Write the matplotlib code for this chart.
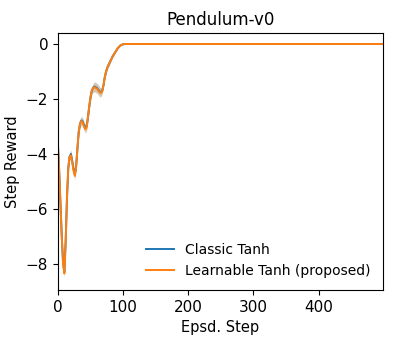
import numpy as np
import matplotlib
matplotlib.use('Agg')
import matplotlib.pyplot as plt

steps = [0, 2, 4, 6, 8, 10, 12, 14, 16, 18, 20, 22, 24, 26, 28, 30, 32, 34, 36, 38,
         40, 42, 44, 46, 48, 50, 52, 54, 56, 58, 60, 62, 64, 66, 68, 70, 72, 74, 76,
         78, 80, 84, 88, 92, 96, 100, 104, 499]
learnable = [-3.6, -4.6, -5.8, -7.0, -8.0, -8.35, -7.2, -5.6, -4.5, -4.1, -4.05, -4.3,
             -4.6, -4.8, -4.5, -3.8, -3.2, -2.9, -2.8, -2.85, -3.0, -3.1, -3.05, -2.7,
             -2.3, -1.95, -1.7, -1.6, -1.57, -1.6, -1.62, -1.68, -1.75, -1.78, -1.72,
             -1.5, -1.2, -1.0, -0.85, -0.75, -0.65, -0.45, -0.3, -0.15, -0.05, -0.01,
             0.0, 0.0]
classic = [-3.6, -4.6, -5.8, -7.0, -7.95, -8.3, -7.15, -5.6, -4.5, -4.1, -4.0, -4.25,
           -4.55, -4.75, -4.45, -3.8, -3.2, -2.9, -2.78, -2.82, -2.95, -3.05, -3.0, -2.7,
           -2.3, -1.95, -1.7, -1.6, -1.55, -1.57, -1.6, -1.66, -1.72, -1.76, -1.7,
           -1.5, -1.2, -1.0, -0.85, -0.75, -0.65, -0.45, -0.3, -0.15, -0.05, -0.01,
           0.0, 0.0]
spread = [0.15, 0.15, 0.15, 0.15, 0.15, 0.15, 0.15, 0.15, 0.15, 0.15, 0.15, 0.15,
          0.15, 0.15, 0.15, 0.15, 0.15, 0.15, 0.15, 0.15, 0.15, 0.15, 0.15, 0.15,
          0.15, 0.15, 0.15, 0.15, 0.18, 0.18, 0.18, 0.18, 0.18, 0.15, 0.12,
          0.1, 0.1, 0.1, 0.08, 0.08, 0.07, 0.05, 0.04, 0.03, 0.02, 0.01,
          0.0, 0.0]

plt.rcParams['font.size'] = 10.5
fig = plt.figure(figsize=(3.99, 3.42), dpi=100)
ax = fig.add_axes([0.145, 0.152, 0.815, 0.7515])

s = np.array(steps)
c = np.array(classic)
l = np.array(learnable)
e = np.array(spread)
ax.fill_between(s, c - e, c + e, color='#1f77b4', alpha=0.25, linewidth=0)
ax.plot(s, c, color='#1f77b4', linewidth=1.4, label='Classic Tanh')
ax.fill_between(s, l - e, l + e, color='#ff7f0e', alpha=0.25, linewidth=0)
ax.plot(s, l, color='#ff7f0e', linewidth=1.4, label='Learnable Tanh (proposed)')

ax.set_xlim(0, 499)
ax.set_ylim(-8.95, 0.4)
ax.set_xticks([0, 100, 200, 300, 400])
ax.set_yticks([-8, -6, -4, -2, 0])
ax.tick_params(labelsize=11)
ax.set_title('Pendulum-v0', fontsize=12)
ax.set_xlabel('Epsd. Step')
ax.set_ylabel('Step Reward')
ax.legend(loc='lower right', frameon=False, fontsize=10)

fig.savefig('out.png', dpi=100)
